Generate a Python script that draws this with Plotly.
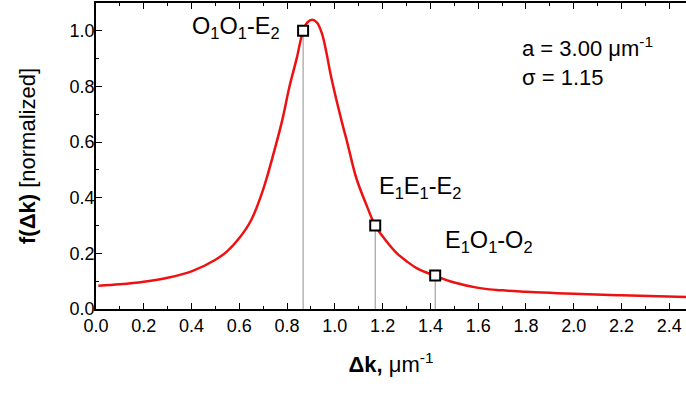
import plotly.graph_objects as go

# Curve data
dk = [0.01, 0.1, 0.2, 0.3, 0.4, 0.5, 0.55, 0.6, 0.65, 0.7, 0.75, 0.78, 0.81, 0.84,
      0.867, 0.885, 0.905, 0.925, 0.946, 0.965, 0.981, 1.0, 1.03, 1.05, 1.09, 1.135,
      1.169, 1.21, 1.26, 1.3, 1.344, 1.42, 1.5, 1.6, 1.7, 1.8, 1.9, 2.0, 2.2, 2.47]
f_norm = [0.084, 0.089, 0.098, 0.112, 0.135, 0.177, 0.208, 0.255, 0.32, 0.43, 0.58, 0.68,
          0.80, 0.90, 1.0, 1.03, 1.04, 1.03, 0.99, 0.92, 0.848, 0.775, 0.67, 0.605, 0.47,
          0.368, 0.30, 0.25, 0.20, 0.172, 0.146, 0.119, 0.095, 0.076, 0.067, 0.062, 0.058,
          0.055, 0.049, 0.043]

# Marked modes
mode_x = [0.867, 1.169, 1.42]
mode_y = [1.0, 0.30, 0.12]
mode_labels = ["O<sub>1</sub>O<sub>1</sub>-E<sub>2</sub>",
               "E<sub>1</sub>E<sub>1</sub>-E<sub>2</sub>",
               "E<sub>1</sub>O<sub>1</sub>-O<sub>2</sub>"]

x_ticks = [0.0, 0.2, 0.4, 0.6, 0.8, 1.0, 1.2, 1.4, 1.6, 1.8, 2.0, 2.2, 2.4]
y_ticks = [0.0, 0.2, 0.4, 0.6, 0.8, 1.0]

FONT = "Arial, Liberation Sans, sans-serif"

fig = go.Figure()

# vertical drop lines
vx, vy = [], []
for xx, yy in zip(mode_x, mode_y):
    vx += [xx, xx, None]
    vy += [0, yy, None]
fig.add_trace(go.Scatter(x=vx, y=vy, mode="lines",
                         line=dict(color="#8f8f8f", width=1), hoverinfo="skip",
                         showlegend=False))

fig.add_trace(go.Scatter(x=dk, y=f_norm, mode="lines", line_shape="spline",
                         line=dict(color="#ee1111", width=2.5), showlegend=False))

fig.add_trace(go.Scatter(x=mode_x, y=mode_y, mode="markers",
                         marker=dict(symbol="square", size=10, color="white",
                                     line=dict(color="black", width=2)),
                         showlegend=False))

# labels
label_pos = [dict(xanchor="right", xshift=-21, yshift=3),
             dict(xanchor="left", xshift=2, yshift=38),
             dict(xanchor="left", xshift=8, yshift=34)]
for xx, yy, txt, p in zip(mode_x, mode_y, mode_labels, label_pos):
    fig.add_annotation(x=xx, y=yy, text=txt, showarrow=False,
                       xanchor=p["xanchor"], yanchor="middle",
                       xshift=p["xshift"], yshift=p["yshift"],
                       font=dict(size=23.5, color="black", family=FONT))

fig.add_annotation(xref="x domain", yref="y domain", x=(520 - 95.5) / 590.5,
                   y=1 - (47 - 3) / 306, text="a = 3.00 μm<sup>-1</sup>",
                   showarrow=False, xanchor="left", yanchor="middle",
                   font=dict(size=22, color="black", family=FONT))
fig.add_annotation(xref="x domain", yref="y domain", x=(520 - 95.5) / 590.5,
                   y=1 - (77 - 3) / 306, text="σ = 1.15",
                   showarrow=False, xanchor="left", yanchor="middle",
                   font=dict(size=22, color="black", family=FONT))

axis_common = dict(showline=True, linecolor="black", linewidth=1.5,
                   ticks="inside", ticklen=6, tickwidth=1.3, tickcolor="black",
                   showgrid=False, zeroline=False, automargin=False,
                   tickfont=dict(size=18, color="black", family=FONT))

fig.update_xaxes(range=[0, 2.47], tickvals=x_ticks,
                 ticktext=[f"{v:.1f}" for v in x_ticks], mirror="ticks",
                 minor=dict(ticks="inside", ticklen=3, tickwidth=1.2, tickcolor="black", dtick=0.1, tick0=0),
                 title=dict(text="<b>Δk,</b> μm<sup>-1</sup>", font=dict(size=22, color="black", family=FONT),
                            standoff=21),
                 **axis_common)
fig.update_yaxes(range=[0, 1.1], tickvals=y_ticks,
                 ticktext=[f"{v:.1f}" for v in y_ticks], mirror=False,
                 ticklabelstandoff=-4,
                 minor=dict(ticks="inside", ticklen=3, tickwidth=1.2, tickcolor="black", dtick=0.1, tick0=0),
                 title=dict(text="<b>f(Δk)</b> [normalized]", font=dict(size=22, color="black", family=FONT),
                            standoff=28),
                 **axis_common)

fig.update_layout(width=686, height=394, margin=dict(l=95.5, r=0, t=3, b=85),
                  plot_bgcolor="white", paper_bgcolor="white",
                  font=dict(family=FONT, color="black"))

fig.write_html("out.html", config={"displayModeBar": False},
               post_script="document.body.style.margin='0';")
